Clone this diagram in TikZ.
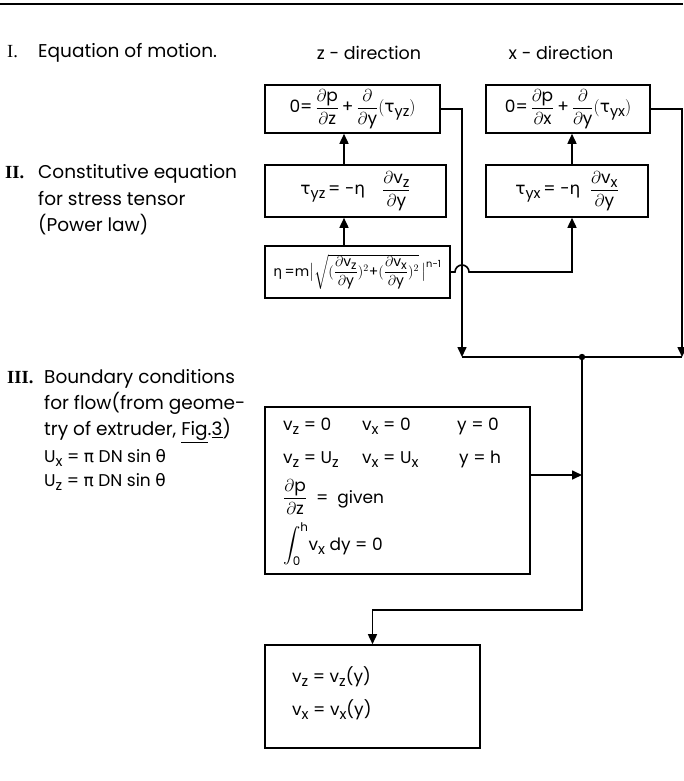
\documentclass[tikz,border=0pt]{standalone}
\usepackage{amsmath}
\usepackage{graphicx}
\usepackage{fontspec}
\setmainfont{Poppins}
\newfontfamily\numfont{Liberation Serif}
\newfontfamily\gk{DejaVu Sans}
\usetikzlibrary{arrows.meta}
\newcommand\T[1]{\text{#1}}
\newcommand\pd{\partial}
\newcommand\s[1]{\raisebox{-0.45ex}{\scalebox{0.85}{#1}}}
\newcommand\gtau{\text{\gk τ}}
\newcommand\geta{\text{\gk η}}
\newcommand\gpi{{\gk π}}
\newcommand\gth{{\gk θ}}
\begin{document}
\begin{tikzpicture}[x=1pt,y=-1pt,
  ln/.style={line width=1.6pt},
  arr/.style={line width=1.6pt,-{Triangle[length=10pt,width=9pt]}},
  box/.style={draw,line width=1.6pt,inner sep=0pt,font=\fontsize{17}{20}\selectfont},
  lbl/.style={anchor=base west,inner sep=0pt,font=\fontsize{18.5}{22}\selectfont},
  hdr/.style={anchor=base,inner sep=0pt,font=\fontsize{17.5}{21}\selectfont},
  bt/.style={anchor=base west,inner sep=0pt,font=\fontsize{17}{20}\selectfont}]
\useasboundingbox (0,0) rectangle (683,781);
\draw[line width=1.2pt] (0,4) -- (683,4);

% left labels
\node[lbl] (n1) at (7,58) {\numfont I.};
\node[lbl] (t1) at (38,58) {Equation of motion.};
\node[lbl] (n2) at (5,178) {\numfont\bfseries II.};
\node[lbl] (t2a) at (38,178) {Constitutive equation};
\node[lbl] (t2b) at (38,205) {for stress tensor};
\node[lbl] (t2c) at (38,231) {(Power law)};
\node[lbl] (n3) at (7,383) {\numfont\bfseries III.};
\node[lbl] (t3a) at (44,383) {Boundary conditions};
\node[lbl] (t3b) at (44,409) {for flow(from geome-};
\node[lbl] (t3c) at (44,435) {try of extruder, \underline{Fig}.\underline{3})};
\node[bt] (t3d) at (44,462) {U\s{x} = \gpi\ DN sin \gth};
\node[bt] (t3e) at (44,486) {U\s{z} = \gpi\ DN sin \gth};

% headers
\node[hdr] (hz) at (369,60) {z - direction};
\node[hdr] (hx) at (561,60) {x - direction};

% boxes
\node[box,minimum width=175pt,minimum height=48pt] (z1) at (352.5,109)
  {$\T{0=}\,\dfrac{\pd\T{p}}{\pd\T{z}}\,\T{+}\,\dfrac{\pd}{\pd\T{y}}(\gtau\s{yz})$};
\node[box,minimum width=164pt,minimum height=48pt] (x1) at (568,109)
  {$\T{0=}\,\dfrac{\pd\T{p}}{\pd\T{x}}\,\T{+}\,\dfrac{\pd}{\pd\T{y}}(\gtau\s{yx})$};
\node[box,minimum width=181pt,minimum height=52pt] (z2) at (355.5,191)
  {$\gtau\s{yz}\,\T{= -}\geta\quad\dfrac{\pd\T{v}\s{z}}{\pd\T{y}}$};
\node[box,minimum width=162pt,minimum height=52pt] (x2) at (567,191)
  {$\gtau\s{yx}\,\T{= -}\geta\;\;\dfrac{\pd\T{v}\s{x}}{\pd\T{y}}$};
\node[box,minimum width=185pt,minimum height=52pt,font=\fontsize{14}{16}\selectfont] (eta) at (357.5,272)
  {$\geta\,\T{=m}\bigl|\sqrt{(\dfrac{\pd\T{v}\s{z}}{\pd\T{y}})^{2}\T{+}(\dfrac{\pd\T{v}\s{x}}{\pd\T{y}})^{2}}\,\bigr|^{\T{n-1}}$};
\node[box,minimum width=265pt,minimum height=167pt] (bc) at (397.5,490.5) {};
\node[box,minimum width=215pt,minimum height=103pt] (res) at (372.5,696.5) {};

% boundary condition texts
\node[bt] (b11) at (283,430) {v\s{z} = 0};
\node[bt] (b12) at (362,430) {v\s{x} = 0};
\node[bt] (b13) at (457,430) {y = 0};
\node[bt] (b21) at (283,463) {v\s{z} = U\s{z}};
\node[bt] (b22) at (362,463) {v\s{x} = U\s{x}};
\node[bt] (b23) at (459,463) {y = h};
\node[bt] (b3) at (283,503) {$\dfrac{\pd\T{p}}{\pd\T{z}}$\ \ =\ \ given};
\node[bt] (b4) at (283,550) {$\displaystyle\int_{\T{0}}^{\T{h}}$v\s{x} dy = 0};

% result texts
\node[bt] (r1) at (292,682) {v\s{z} = v\s{z}(y)};
\node[bt] (r2) at (292,715) {v\s{x} = v\s{x}(y)};

% helper coordinates
\coordinate (cz) at (344,0);
\coordinate (cx) at (572,0);
\coordinate (hl) at (455,0);
\coordinate (jz) at (462,357);
\coordinate (jr) at (682,357);
\coordinate (dot) at (582,357);
\coordinate (turn) at (582,610);
\coordinate (ba) at (582,475);

% connectors
\draw[arr] (z2.north -| cz) -- (z1.south -| cz);
\draw[arr] (eta.north -| cz) -- (z2.south -| cz);
\draw[arr] (x2.north -| cx) -- (x1.south -| cx);
\draw[arr] (eta.east) -- (eta.east -| hl) arc[start angle=180,end angle=360,radius=7]
   -- (eta.east -| cx) -- (x2.south -| cx);
\draw[arr] (z1.east) -- (z1.east -| jz) -- (jz);
\draw[arr] (x1.east) -- (x1.east -| jr) -- (jr);
\draw[ln] (jz) -- (jr);
\fill (dot) circle (3.2);
\draw[arr] (dot) -- (turn) -- (turn -| res.north) -- (res.north);
\draw[arr] (bc.east |- ba) -- (ba);
\end{tikzpicture}
\end{document}
